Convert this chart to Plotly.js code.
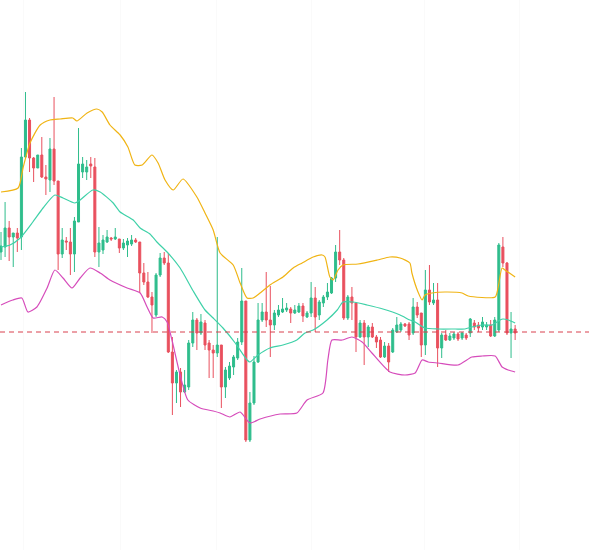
<!DOCTYPE html>
<html>
<head>
<meta charset="utf-8">
<script src="https://cdn.plot.ly/plotly-3.0.1.min.js"></script>
<style>html,body{margin:0;padding:0;background:#fff}#chart{width:589px;height:550px}</style>
</head>
<body>
<div id="chart"></div>
<script>
const openP  = [2.260,2.265,2.284,2.275,2.279,2.275,2.355,2.392,2.354,2.344,2.357,2.335,2.332,2.363,2.331,2.258,2.271,2.270,2.258,2.290,2.340,2.340,2.348,2.345,2.260,2.262,2.270,2.274,2.273,2.273,2.264,2.267,2.268,2.272,2.270,2.239,2.230,2.215,2.197,2.237,2.254,2.249,2.160,2.129,2.140,2.120,2.125,2.169,2.192,2.179,2.189,2.169,2.162,2.159,2.167,2.125,2.134,2.145,2.154,2.170,2.211,2.072,2.109,2.150,2.192,2.200,2.192,2.187,2.197,2.200,2.202,2.203,2.199,2.200,2.206,2.195,2.199,2.214,2.197,2.209,2.215,2.219,2.234,2.260,2.252,2.194,2.215,2.209,2.175,2.189,2.175,2.185,2.175,2.172,2.155,2.166,2.160,2.180,2.182,2.188,2.188,2.179,2.205,2.199,2.167,2.222,2.209,2.212,2.164,2.177,2.172,2.174,2.178,2.174,2.177,2.179,2.189,2.187,2.185,2.185,2.187,2.176,2.182,2.265,2.249,2.179,2.183];
const highP  = [2.280,2.310,2.291,2.279,2.284,2.364,2.420,2.394,2.355,2.357,2.375,2.347,2.374,2.415,2.331,2.284,2.275,2.284,2.295,2.384,2.355,2.352,2.355,2.354,2.285,2.277,2.282,2.275,2.284,2.273,2.273,2.274,2.277,2.274,2.270,2.249,2.240,2.220,2.239,2.259,2.260,2.259,2.175,2.142,2.144,2.142,2.172,2.200,2.194,2.198,2.192,2.172,2.167,2.275,2.167,2.145,2.150,2.157,2.174,2.244,2.211,2.120,2.156,2.209,2.209,2.240,2.226,2.202,2.207,2.214,2.209,2.205,2.207,2.209,2.209,2.201,2.230,2.225,2.212,2.217,2.229,2.235,2.267,2.282,2.254,2.217,2.225,2.209,2.192,2.192,2.187,2.189,2.177,2.175,2.170,2.169,2.184,2.195,2.190,2.189,2.190,2.214,2.210,2.199,2.242,2.247,2.229,2.229,2.179,2.182,2.179,2.180,2.180,2.180,2.179,2.194,2.192,2.190,2.195,2.190,2.192,2.195,2.269,2.275,2.250,2.200,2.187];
const lowP   = [2.252,2.255,2.251,2.245,2.260,2.262,2.354,2.340,2.330,2.344,2.334,2.317,2.320,2.327,2.242,2.254,2.262,2.237,2.240,2.290,2.334,2.332,2.334,2.255,2.245,2.258,2.269,2.271,2.272,2.259,2.262,2.255,2.266,2.269,2.219,2.227,2.214,2.179,2.195,2.235,2.247,2.159,2.097,2.109,2.105,2.119,2.122,2.165,2.162,2.177,2.162,2.134,2.134,2.155,2.104,2.114,2.132,2.137,2.152,2.167,2.070,2.070,2.107,2.149,2.190,2.185,2.155,2.182,2.195,2.199,2.200,2.189,2.198,2.199,2.190,2.194,2.195,2.180,2.192,2.205,2.212,2.218,2.230,2.247,2.192,2.192,2.192,2.160,2.174,2.147,2.165,2.174,2.164,2.154,2.154,2.140,2.159,2.179,2.180,2.185,2.172,2.177,2.194,2.155,2.157,2.207,2.207,2.145,2.154,2.171,2.171,2.172,2.171,2.172,2.172,2.175,2.182,2.180,2.182,2.182,2.175,2.175,2.180,2.245,2.177,2.154,2.172];
const closeP = [2.266,2.284,2.275,2.279,2.274,2.355,2.392,2.354,2.344,2.357,2.335,2.333,2.363,2.331,2.258,2.272,2.270,2.258,2.291,2.348,2.348,2.345,2.346,2.260,2.269,2.272,2.275,2.273,2.275,2.264,2.269,2.271,2.272,2.270,2.239,2.230,2.215,2.207,2.237,2.254,2.249,2.160,2.129,2.140,2.120,2.127,2.169,2.192,2.179,2.190,2.167,2.162,2.159,2.167,2.125,2.142,2.146,2.155,2.170,2.211,2.072,2.109,2.150,2.192,2.200,2.192,2.187,2.199,2.202,2.203,2.204,2.199,2.202,2.206,2.196,2.199,2.214,2.195,2.210,2.215,2.220,2.234,2.260,2.252,2.194,2.215,2.209,2.175,2.189,2.175,2.185,2.175,2.170,2.155,2.166,2.150,2.182,2.187,2.188,2.186,2.177,2.205,2.197,2.167,2.222,2.210,2.212,2.164,2.177,2.172,2.176,2.178,2.173,2.179,2.174,2.193,2.185,2.184,2.190,2.187,2.176,2.192,2.267,2.249,2.179,2.183,2.179];

// Bollinger bands (x = candle index, y = price)
const upperX = [0,4.2,5.4,7.1,9.6,12.0,14.5,17.6,18.6,21.1,23.5,24.8,26.7,29.2,31.1,32.8,34.6,37.0,38.5,40.2,42.2,44.6,48.0,50.0,52.0,53.7,56.9,58.6,60.3,61.8,63.5,65.9,69.1,71.6,73.8,76.5,78.7,79.4,80.6,81.4,82.6,83.8,87.5,92.2,95.3,97.8,100.2,100.7,102.2,103.2,103.9,105.6,108.8,113.0,114.5,121.1,121.8,122.8,123.5,126.0];
const upperY = [2.320,2.324,2.344,2.369,2.387,2.392,2.393,2.394,2.391,2.399,2.403,2.400,2.387,2.377,2.365,2.347,2.347,2.357,2.349,2.332,2.322,2.333,2.315,2.299,2.282,2.259,2.247,2.229,2.214,2.214,2.219,2.227,2.235,2.244,2.249,2.255,2.257,2.255,2.235,2.232,2.242,2.247,2.248,2.252,2.255,2.254,2.249,2.239,2.220,2.212,2.217,2.219,2.220,2.219,2.216,2.215,2.224,2.244,2.242,2.235];
const midX   = [0,2.2,4.7,7.8,10.3,13.2,15.2,18.1,19.4,22.5,24.3,27.5,29.2,32.4,34.1,36.5,38.2,40.7,43.9,47.1,50.0,52.0,54.4,57.4,60.3,61.0,63.0,65.9,69.1,72.5,74.5,76.5,79.9,82.4,83.8,86.3,89.7,93.6,97.8,100.2,101.5,103.9,107.1,111.3,113.7,115.4,117.9,120.3,122.3,123.0,124.3,126.0];
const midY   = [2.265,2.267,2.274,2.290,2.304,2.317,2.314,2.309,2.312,2.322,2.320,2.309,2.300,2.292,2.284,2.278,2.270,2.260,2.244,2.221,2.202,2.194,2.184,2.169,2.152,2.150,2.157,2.164,2.167,2.172,2.179,2.182,2.192,2.202,2.210,2.210,2.207,2.203,2.197,2.192,2.190,2.184,2.183,2.183,2.183,2.185,2.187,2.187,2.192,2.193,2.192,2.189];
const lowerX = [0,2.9,5.1,6.6,8.8,11.3,13.2,15.2,17.4,19.4,21.8,24.3,26.7,30.9,34.1,35.8,37.3,39.5,40.7,41.9,43.9,45.8,48.8,52.0,53.7,56.1,58.6,61.0,63.5,68.4,72.5,75.0,78.9,80.1,81.1,83.6,86.0,88.5,90.9,95.3,99.0,101.5,103.2,104.7,107.1,112.0,115.4,117.9,121.1,122.8,124.3,126.0];
const lowerY = [2.207,2.212,2.214,2.200,2.205,2.224,2.242,2.234,2.224,2.234,2.244,2.239,2.232,2.224,2.219,2.205,2.194,2.195,2.190,2.172,2.137,2.112,2.104,2.101,2.099,2.095,2.100,2.089,2.093,2.098,2.099,2.112,2.119,2.152,2.172,2.172,2.175,2.170,2.159,2.140,2.137,2.139,2.152,2.150,2.149,2.147,2.155,2.156,2.156,2.145,2.142,2.140];

const refPrice = 2.180;
const gridIdx = [5.6, 29.2, 52.7, 76, 103.7, 127];

const xIdx = openP.map((_, i) => i);
const GREEN = '#2fbd8c', RED = '#e9505e';

const traces = [
  {type:'scatter', mode:'lines', x:upperX, y:upperY, line:{color:'#f0b414', width:1.2, shape:'spline', smoothing:0.6}, hoverinfo:'skip'},
  {type:'scatter', mode:'lines', x:midX, y:midY, line:{color:'#3fd1a8', width:1.2, shape:'spline', smoothing:0.6}, hoverinfo:'skip'},
  {type:'scatter', mode:'lines', x:lowerX, y:lowerY, line:{color:'#d64cbb', width:1.2, shape:'spline', smoothing:0.6}, hoverinfo:'skip'},
  {type:'candlestick', x:xIdx, open:openP, high:highP, low:lowP, close:closeP,
   increasing:{line:{color:GREEN, width:1}, fillcolor:GREEN},
   decreasing:{line:{color:RED, width:1}, fillcolor:RED},
   whiskerwidth:0}
];

const layout = {
  width:589, height:550,
  margin:{l:0,r:0,t:0,b:0},
  paper_bgcolor:'#ffffff', plot_bgcolor:'#ffffff',
  showlegend:false, hovermode:false,
  xaxis:{range:[-0.245,144.1], showticklabels:false, zeroline:false, showline:false,
         tickmode:'array', tickvals:gridIdx, ticks:'', showgrid:true, gridcolor:'#fafafa', gridwidth:1,
         rangeslider:{visible:false}, fixedrange:true},
  yaxis:{range:[1.962,2.512], showticklabels:false, zeroline:false, showline:false, showgrid:false, fixedrange:true},
  shapes:[{type:'line', xref:'paper', x0:0, x1:1, yref:'y', y0:refPrice, y1:refPrice,
           line:{color:'#d9404e', width:1, dash:'5px,4px'}}]
};

Plotly.newPlot('chart', traces, layout, {staticPlot:true, displayModeBar:false});
</script>
</body>
</html>
